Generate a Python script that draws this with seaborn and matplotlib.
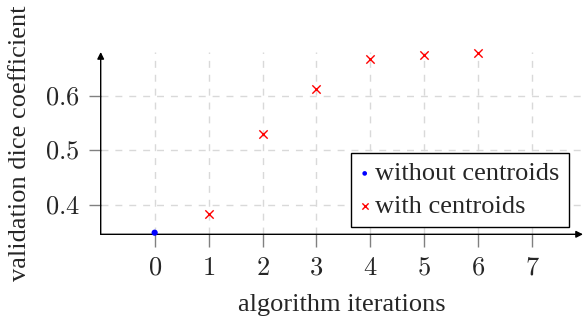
import matplotlib
matplotlib.use("Agg")
import matplotlib.pyplot as plt
import seaborn as sns
import pandas as pd

iters_without = [0]
dice_without = [0.348]
iters_with = [1, 2, 3, 4, 5, 6]
dice_with = [0.382, 0.531, 0.614, 0.669, 0.676, 0.680]
xticks = [0, 1, 2, 3, 4, 5, 6, 7]
yticks = [0.4, 0.5, 0.6]

sns.set_style("white")
plt.rcParams["font.family"] = ["Liberation Serif", "DejaVu Serif"]
plt.rcParams["mathtext.fontset"] = "cm"

df_wo = pd.DataFrame({"it": iters_without, "dice": dice_without})
df_w = pd.DataFrame({"it": iters_with, "dice": dice_with})

fig = plt.figure(figsize=(5.86, 3.16), dpi=100)
ax = fig.add_axes([100.7 / 586, 81.7 / 316, 482.3 / 586, 182.3 / 316])

sns.scatterplot(data=df_wo, x="it", y="dice", ax=ax, marker="o", color="blue",
                s=20, edgecolor="none", label="without centroids", zorder=5,
                clip_on=False)
sns.scatterplot(data=df_w, x="it", y="dice", ax=ax, marker="x", color="red",
                s=36, linewidth=1, label="with centroids", zorder=5,
                clip_on=False)

ax.set_xlim(-1, 7.94)
ax.set_ylim(0.345, 0.682)
ax.set_xticks(xticks)
ax.set_yticks(yticks)
ax.set_xticklabels([f"${t}$" for t in xticks], fontsize=19)
ax.set_yticklabels([f"${t}$" for t in yticks], fontsize=19)
ax.tick_params(axis="x", direction="out", length=9, width=1, color="#808080", pad=8)
ax.tick_params(axis="y", direction="out", length=9, width=1, color="#808080", pad=6)
ax.tick_params(bottom=True, left=True)

ax.grid(True, color="#d9d9d9", linestyle=(0, (5, 5)), linewidth=1)
for s in ax.spines.values():
    s.set_visible(False)

ax.annotate("", xy=(1.0, 0), xytext=(0, 0), xycoords="axes fraction",
            arrowprops=dict(arrowstyle="-|>", lw=1, color="black",
                            mutation_scale=10, shrinkA=0, shrinkB=0))
ax.annotate("", xy=(0, 1.0), xytext=(0, 0), xycoords="axes fraction",
            arrowprops=dict(arrowstyle="-|>", lw=1, color="black",
                            mutation_scale=10, shrinkA=0, shrinkB=0))

ax.set_xlabel("algorithm iterations", fontsize=19, labelpad=10)
ax.set_ylabel("validation dice coefficient", fontsize=19, labelpad=10)

leg = ax.legend(loc="upper left", bbox_to_anchor=(0.52, 0.448), borderaxespad=0,
                fontsize=19, frameon=True, fancybox=False, framealpha=1,
                edgecolor="black", handlelength=0.3, handletextpad=0.25,
                borderpad=0.35, labelspacing=0.35, markerscale=0.75)
leg.get_frame().set_linewidth(1)

fig.savefig("out.png", dpi=100)
